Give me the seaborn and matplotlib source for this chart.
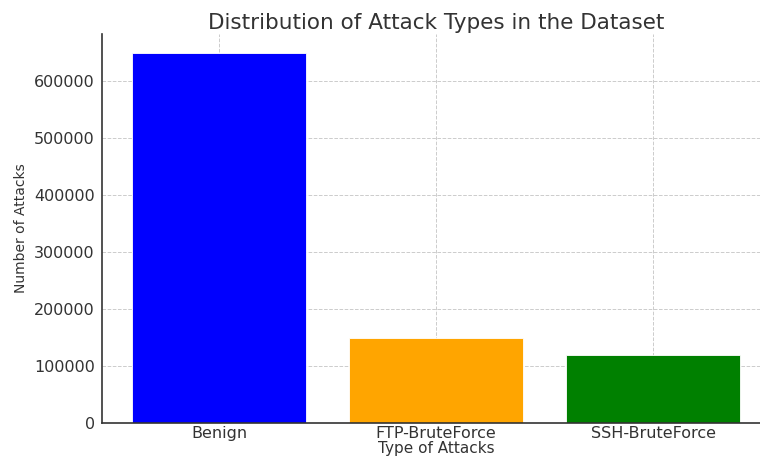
import matplotlib
matplotlib.use("Agg")
import matplotlib.pyplot as plt
import seaborn as sns
import pandas as pd

categories = ["Benign", "FTP-BruteForce", "SSH-BruteForce"]
counts = [650000, 150000, 120000]
colors = ["#0000ff", "#ffa500", "#008000"]
yticks = [0, 100000, 200000, 300000, 400000, 500000, 600000]

sns.set_theme(style="white")
plt.rcParams['font.family'] = ['DejaVu Sans']

df = pd.DataFrame({"Type": categories, "Count": counts})

fig = plt.figure(figsize=(7.6, 4.57), dpi=100)
ax = fig.add_axes([0.134, 0.0744, 0.8795, 0.851])
sns.barplot(data=df, x="Type", y="Count", hue="Type", palette=colors,
            saturation=1, width=0.8, ax=ax, legend=False, zorder=2,
            edgecolor="white", linewidth=0.6)

ax.set_xlim(-0.54, 2.54)
ax.set_ylim(0, 682500)
ax.set_yticks(yticks)
ax.set_yticklabels([str(v) for v in yticks])
ax.grid(True, linestyle="--", color="#cccccc", linewidth=0.7, zorder=0)
ax.set_axisbelow(True)
for s in ["top", "right"]:
    ax.spines[s].set_visible(False)
for s in ["left", "bottom"]:
    ax.spines[s].set_color("#333333")
    ax.spines[s].set_linewidth(1.2)

ax.tick_params(axis="both", labelsize=11.5, colors="#333333", direction="in", length=4)
ax.tick_params(axis="x", pad=2)
ax.tick_params(axis="y", pad=5)
ax.set_title("Distribution of Attack Types in the Dataset", fontsize=15.5, color="#333333", pad=4)
ax.set_xlabel("Type of Attacks", fontsize=11, color="#333333", labelpad=0.5)
ax.set_ylabel("Number of Attacks", fontsize=10, color="#333333", labelpad=4)

fig.savefig("out.png", dpi=100)
